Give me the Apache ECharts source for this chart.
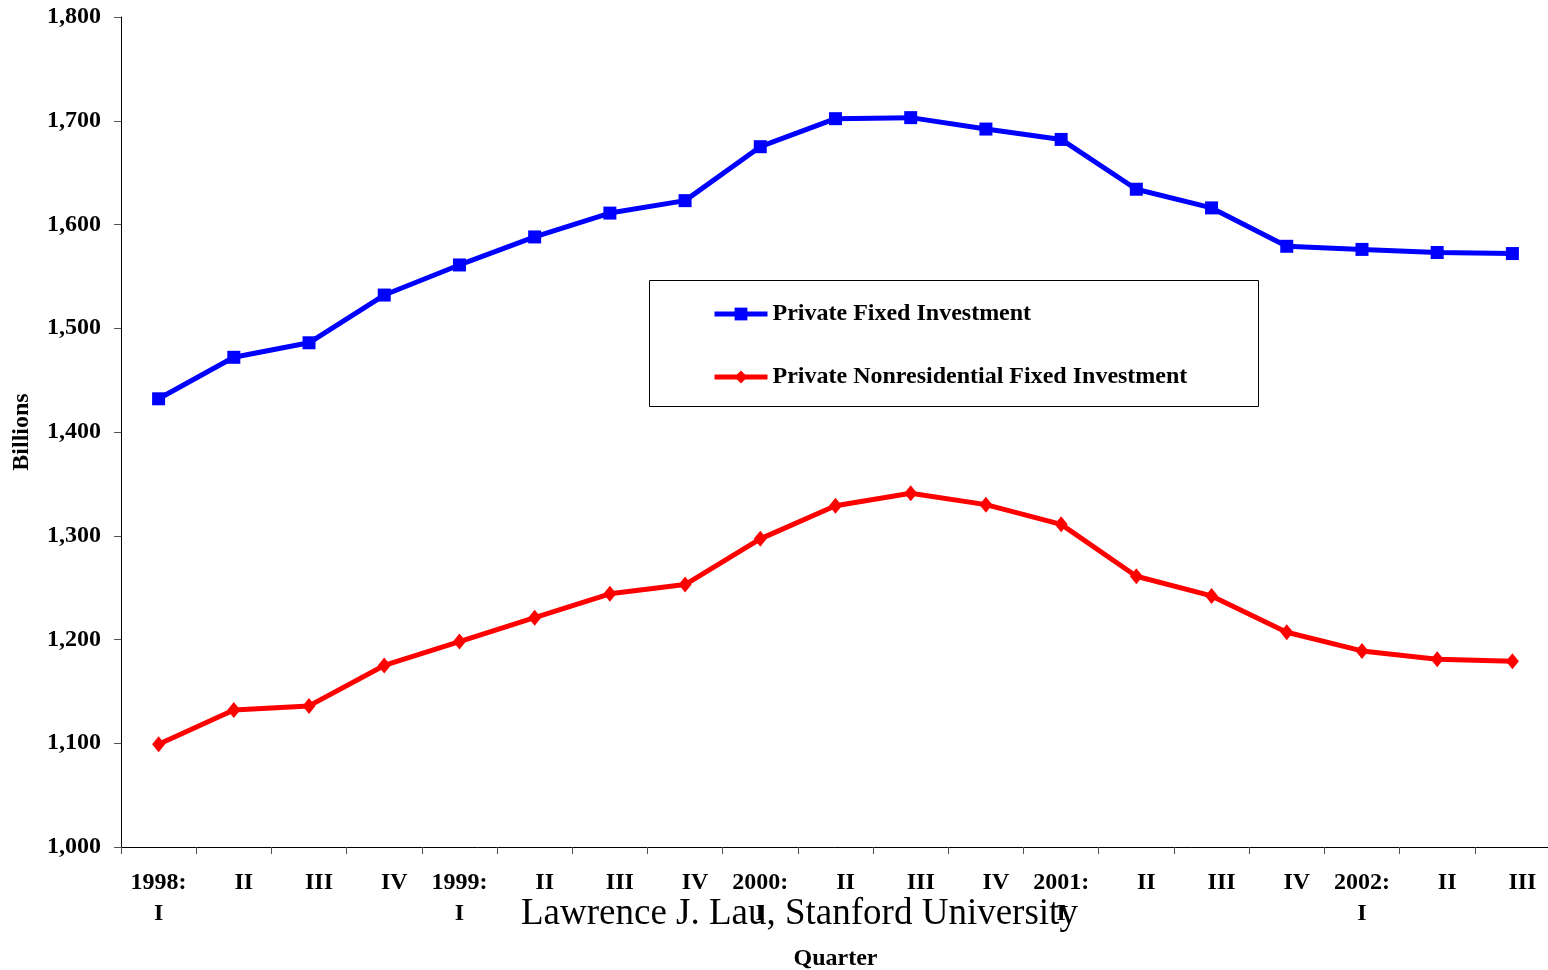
<!DOCTYPE html>
<html><head><meta charset="utf-8">
<script src="https://cdn.jsdelivr.net/npm/echarts@6/dist/echarts.min.js"></script>
<style>html,body{margin:0;padding:0;background:#fff}#c{width:1548px;height:970px}</style>
</head><body><div id="c"></div>
<script>
const categories = ["1998:\nI","II","III","IV","1999:\nI","II","III","IV","2000:\nI","II","III","IV","2001:\nI","II","III","IV","2002:\nI","II","III"];
const privateFixed = [1432,1472,1486,1532,1561,1588,1611,1623,1675,1702,1703,1692,1682,1634,1616,1579,1576,1573,1572];
const privateNonres = [1099,1132,1136,1175,1198,1221,1244,1253,1297,1329,1341,1330,1311,1261,1242,1207,1189,1181,1179];
const yTicks = [1000,1100,1200,1300,1400,1500,1600,1700,1800];

const font = '"Liberation Serif","Times New Roman",serif';
const chart = echarts.init(document.getElementById('c'), null, {renderer:'canvas'});
chart.setOption({
  animation:false,
  backgroundColor:'#fff',
  grid:{left:121, top:17, width:1429, height:830, containLabel:false, outerBoundsMode:'none'},
  legend:{
    orient:'vertical', left:712, top:302, padding:0, itemGap:39, itemWidth:53, itemHeight:16,
    lineStyle:{width:5},
    textStyle:{fontFamily:font, fontWeight:'bold', fontSize:24, color:'#000'},
    data:['Private Fixed Investment','Private Nonresidential Fixed Investment']
  },
  xAxis:{
    type:'category', data:categories, boundaryGap:true,
    name:'Quarter', nameLocation:'middle', nameGap:100,
    nameTextStyle:{fontFamily:font, fontWeight:'bold', fontSize:24, color:'#000'},
    axisLine:{lineStyle:{color:'#000', width:1}},
    axisTick:{show:true, length:7, inside:false, lineStyle:{color:'#555'}},
    axisLabel:{fontFamily:font, fontWeight:'bold', fontSize:24, color:'#000', margin:20, lineHeight:31, interval:0,
      formatter:v=>v.indexOf('\n')>=0 ? v : '{q|'+v+'}',
      rich:{q:{fontFamily:font, fontWeight:'bold', fontSize:24, color:'#000', lineHeight:31, padding:[0,0,0,20]}}},
    splitLine:{show:false}
  },
  yAxis:{
    type:'value', min:yTicks[0], max:yTicks[yTicks.length-1], interval:100,
    name:'Billions', nameLocation:'middle', nameGap:87, nameRotate:90,
    nameTextStyle:{fontFamily:font, fontWeight:'bold', fontSize:24, color:'#000'},
    axisLine:{show:true, lineStyle:{color:'#000', width:1}},
    axisTick:{show:true, length:7, lineStyle:{color:'#555'}},
    axisLabel:{fontFamily:font, fontWeight:'bold', fontSize:24, color:'#000', margin:20,
      formatter:v=>v.toLocaleString('en-US')},
    splitLine:{show:false}
  },
  graphic:[
    {type:'rect', shape:{x:649.5, y:280.5, width:609, height:126}, style:{fill:'none', stroke:'#000', lineWidth:1}, z:-1},
    {type:'text', left:521, top:896, style:{text:'Lawrence J. Lau, Stanford University', font:'37px "Liberation Serif","Times New Roman",serif', fill:'#000'}}
  ],
  series:[
    {name:'Private Fixed Investment', type:'line', data:privateFixed,
     lineStyle:{color:'#0000ff', width:5}, itemStyle:{color:'#0000ff'},
     symbol:'rect', symbolSize:13, showAllSymbol:true},
    {name:'Private Nonresidential Fixed Investment', type:'line', data:privateNonres,
     lineStyle:{color:'#ff0000', width:5}, itemStyle:{color:'#ff0000'},
     symbol:'diamond', symbolSize:[13,16], showAllSymbol:true}
  ]
});
</script></body></html>
